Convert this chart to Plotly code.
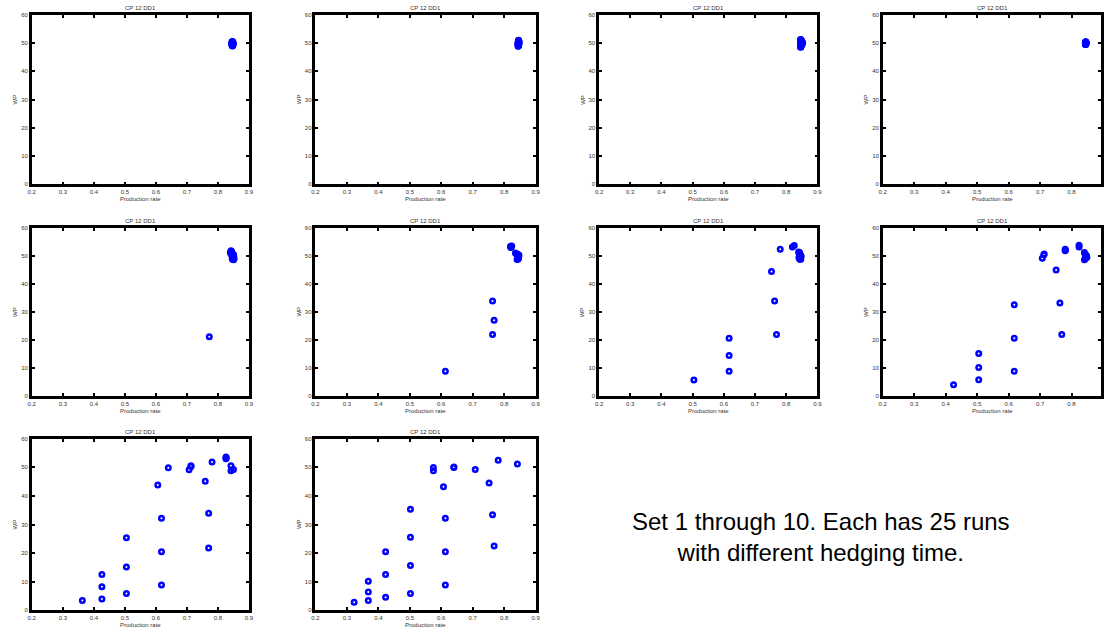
import plotly.graph_objects as go

W, H = 1106, 632

# ---------------- data ----------------
set1_x = [0.846, 0.847, 0.845, 0.848, 0.846, 0.847, 0.849, 0.845, 0.846, 0.848, 0.847, 0.846, 0.845,
          0.847, 0.848, 0.846, 0.849, 0.847, 0.845, 0.846, 0.848, 0.847, 0.846, 0.845, 0.848]
set1_y = [49.2, 49.6, 50.1, 50.4, 49.8, 49.0, 49.5, 50.3, 50.6, 49.9, 49.3, 50.0, 49.7,
          50.2, 49.4, 49.1, 50.0, 50.5, 49.6, 49.9, 50.1, 49.8, 50.3, 49.4, 49.7]

set2_x = [0.844, 0.845, 0.846, 0.845, 0.847, 0.846, 0.844, 0.845, 0.846, 0.847, 0.845, 0.846, 0.844,
          0.845, 0.847, 0.846, 0.845, 0.844, 0.846, 0.845, 0.847, 0.846, 0.845, 0.846, 0.845]
set2_y = [48.9, 49.4, 49.9, 50.3, 50.7, 51.0, 49.6, 50.1, 49.2, 50.5, 50.8, 49.7, 50.0,
          49.1, 49.8, 50.2, 50.6, 49.5, 50.9, 49.3, 50.0, 50.4, 49.0, 49.8, 50.1]

set3_x = [0.846, 0.847, 0.848, 0.846, 0.847, 0.848, 0.846, 0.847, 0.852, 0.853, 0.847, 0.846, 0.848,
          0.847, 0.846, 0.848, 0.847, 0.846, 0.851, 0.847, 0.848, 0.846, 0.847, 0.848, 0.846]
set3_y = [48.5, 49.0, 49.5, 50.0, 50.5, 51.0, 51.3, 48.8, 49.8, 50.2, 49.3, 50.7, 51.1,
          48.6, 49.7, 50.3, 50.9, 49.1, 49.9, 51.2, 48.9, 50.4, 49.6, 50.8, 49.4]

set4_x = [0.845, 0.846, 0.844, 0.845, 0.846, 0.845, 0.844, 0.846, 0.845, 0.846, 0.845, 0.844, 0.846,
          0.845, 0.846, 0.845, 0.844, 0.846, 0.845, 0.845, 0.846, 0.844, 0.845, 0.846, 0.845]
set4_y = [49.5, 49.8, 50.1, 50.4, 49.7, 50.0, 49.6, 50.3, 49.9, 50.2, 50.5, 49.8, 50.0,
          49.6, 50.1, 49.7, 50.3, 49.9, 50.2, 49.5, 50.0, 49.8, 50.4, 50.1, 49.9]

set5_x = [0.772, 0.840, 0.842, 0.844, 0.846, 0.848, 0.850, 0.852, 0.843, 0.845, 0.847, 0.849, 0.851,
          0.841, 0.844, 0.846, 0.848, 0.850, 0.845, 0.847, 0.849, 0.843, 0.846, 0.848, 0.850]
set5_y = [21.2, 51.2, 51.8, 51.4, 50.6, 50.0, 49.4, 49.0, 50.9, 50.2, 49.6, 48.9, 49.8,
          51.0, 51.6, 49.8, 49.2, 48.6, 50.4, 50.8, 50.2, 51.2, 49.0, 48.7, 50.5]

set6_x = [0.613, 0.763, 0.768, 0.763, 0.820, 0.822, 0.824, 0.821, 0.836, 0.838, 0.843, 0.845,
          0.841, 0.843, 0.846, 0.844, 0.842, 0.845, 0.847, 0.843, 0.844, 0.846, 0.842, 0.845, 0.844]
set6_y = [8.9, 33.9, 27.1, 22.0, 53.4, 53.2, 53.5, 53.0, 51.0, 50.8, 50.6, 50.4,
          48.7, 49.2, 49.8, 50.1, 49.5, 49.0, 50.2, 49.9, 48.9, 49.6, 50.3, 49.4, 50.0]

set7_x = [0.504, 0.617, 0.617, 0.617, 0.769, 0.763, 0.753, 0.781, 0.820, 0.826, 0.840, 0.842,
          0.844, 0.846, 0.848, 0.841, 0.843, 0.845, 0.847, 0.842, 0.844, 0.846, 0.843, 0.845, 0.847]
set7_y = [5.8, 8.9, 14.5, 20.7, 22.0, 33.9, 44.4, 52.4, 53.2, 53.7, 51.4, 51.0,
          50.6, 50.2, 49.8, 49.4, 49.0, 48.7, 50.0, 50.8, 49.6, 49.2, 51.2, 50.4, 48.9]

set8_x = [0.425, 0.505, 0.505, 0.505, 0.618, 0.618, 0.618, 0.769, 0.763, 0.751, 0.707, 0.712,
          0.713, 0.780, 0.780, 0.824, 0.824, 0.841, 0.841, 0.846, 0.849, 0.843, 0.845, 0.780, 0.847]
set8_y = [4.1, 5.9, 10.2, 15.2, 8.9, 20.7, 32.6, 22.0, 33.2, 45.0, 49.2, 50.4,
          50.7, 52.4, 51.8, 53.8, 53.2, 51.2, 48.6, 50.0, 49.5, 50.5, 49.2, 52.1, 50.2]

set9_x = [0.363, 0.426, 0.426, 0.426, 0.505, 0.505, 0.505, 0.618, 0.618, 0.618, 0.606, 0.640,
          0.707, 0.713, 0.759, 0.770, 0.770, 0.781, 0.826, 0.826, 0.842, 0.842, 0.850, 0.713, 0.826]
set9_y = [3.4, 3.9, 8.2, 12.5, 5.8, 15.1, 25.4, 8.8, 20.5, 32.2, 43.8, 49.9,
          49.2, 50.6, 45.1, 33.9, 21.8, 51.9, 53.6, 53.0, 50.6, 48.8, 49.3, 50.3, 53.3]

set10_x = [0.323, 0.368, 0.368, 0.368, 0.423, 0.423, 0.423, 0.502, 0.502, 0.502, 0.502, 0.613,
           0.613, 0.613, 0.607, 0.575, 0.575, 0.640, 0.708, 0.752, 0.763, 0.768, 0.781, 0.842, 0.640]
set10_y = [2.8, 3.4, 6.4, 10.1, 4.5, 12.5, 20.5, 5.8, 15.6, 25.5, 35.3, 8.8,
           20.5, 32.2, 43.2, 50.0, 48.8, 50.0, 49.3, 44.5, 33.4, 22.5, 52.5, 51.2, 50.1]

sets_x = [set1_x, set2_x, set3_x, set4_x, set5_x, set6_x, set7_x, set8_x, set9_x, set10_x]
sets_y = [set1_y, set2_y, set3_y, set4_y, set5_y, set6_y, set7_y, set8_y, set9_y, set10_y]

panel_title = "CP 12 DD1"
x_label = "Production rate"
y_label = "WP"
x_ticks = [0.2, 0.3, 0.4, 0.5, 0.6, 0.7, 0.8, 0.9]
x_tick_text = ["0.2", "0.3", "0.4", "0.5", "0.6", "0.7", "0.8", "0.9"]
y_ticks = [0, 10, 20, 30, 40, 50, 60]
note_text = "Set 1 through 10. Each has 25 runs<br>with different hedging time."

# ---------------- layout geometry (pixels) ----------------
cols = [(28, 247), (314, 536), (600, 820), (886, 1108)]
rows = [(12, 183), (227, 397), (440, 613)]

FONT = "Liberation Sans, Arial, Helvetica, sans-serif"
fig = go.Figure()
annotations = []
layout_axes = {}

for i in range(10):
    r, c = divmod(i, 4)
    x0, x1 = cols[c]
    y0, y1 = rows[r]
    idx = "" if i == 0 else str(i + 1)
    fig.add_trace(go.Scatter(
        x=sets_x[i], y=sets_y[i], mode="markers",
        xaxis="x" + idx, yaxis="y" + idx,
        marker=dict(symbol="circle-open", size=4.5, color="#0000ff",
                    line=dict(width=2.5, color="#0000ff")),
        showlegend=False, hoverinfo="x+y"))
    common = dict(showline=True, linecolor="black", linewidth=2.5, mirror="ticks",
                  ticks="inside", ticklen=3, tickwidth=2, tickcolor="black",
                  showgrid=False, zeroline=False,
                  tickfont=dict(size=6, color="#333333", family=FONT))
    xr = [0.2, 0.9]
    if x1 > W:
        # the last column runs past the picture's right edge
        xr = [0.2, 0.2 + 0.7 * (W - x0) / (x1 - x0)]
        x1c = W
    else:
        x1c = x1
    layout_axes["xaxis" + idx] = dict(
        domain=[x0 / W, x1c / W], range=xr, anchor="y" + idx,
        tickvals=x_ticks, ticktext=x_tick_text, **common)
    layout_axes["yaxis" + idx] = dict(
        domain=[1 - y1 / H, 1 - y0 / H], range=[0, 60], anchor="x" + idx,
        tickvals=y_ticks, **common)
    cx = (x0 + x1) / 2 / W
    annotations.append(dict(text=panel_title, x=cx, y=1 - (y0 - 7) / H, xref="paper", yref="paper",
                            showarrow=False, font=dict(size=6, color="#333333", family=FONT),
                            xanchor="center", yanchor="middle"))
    annotations.append(dict(text=x_label, x=cx, y=1 - (y1 + 15) / H, xref="paper", yref="paper",
                            showarrow=False, font=dict(size=6, color="#333333", family=FONT),
                            xanchor="center", yanchor="middle"))
    annotations.append(dict(text=y_label, x=(x0 - 17) / W, y=1 - (y0 + y1) / 2 / H,
                            xref="paper", yref="paper", textangle=-90,
                            showarrow=False, font=dict(size=6, color="#333333", family=FONT),
                            xanchor="center", yanchor="middle"))

annotations.append(dict(text=note_text, x=824 / W, y=1 - 539 / H, xref="paper", yref="paper",
                        showarrow=False, align="center",
                        font=dict(size=24, color="black", family=FONT),
                        xanchor="center", yanchor="middle"))

fig.update_layout(width=W, height=H, margin=dict(l=0, r=0, t=0, b=0),
                  paper_bgcolor="white", plot_bgcolor="white",
                  annotations=annotations, **layout_axes)

fig.write_html("out.html")
